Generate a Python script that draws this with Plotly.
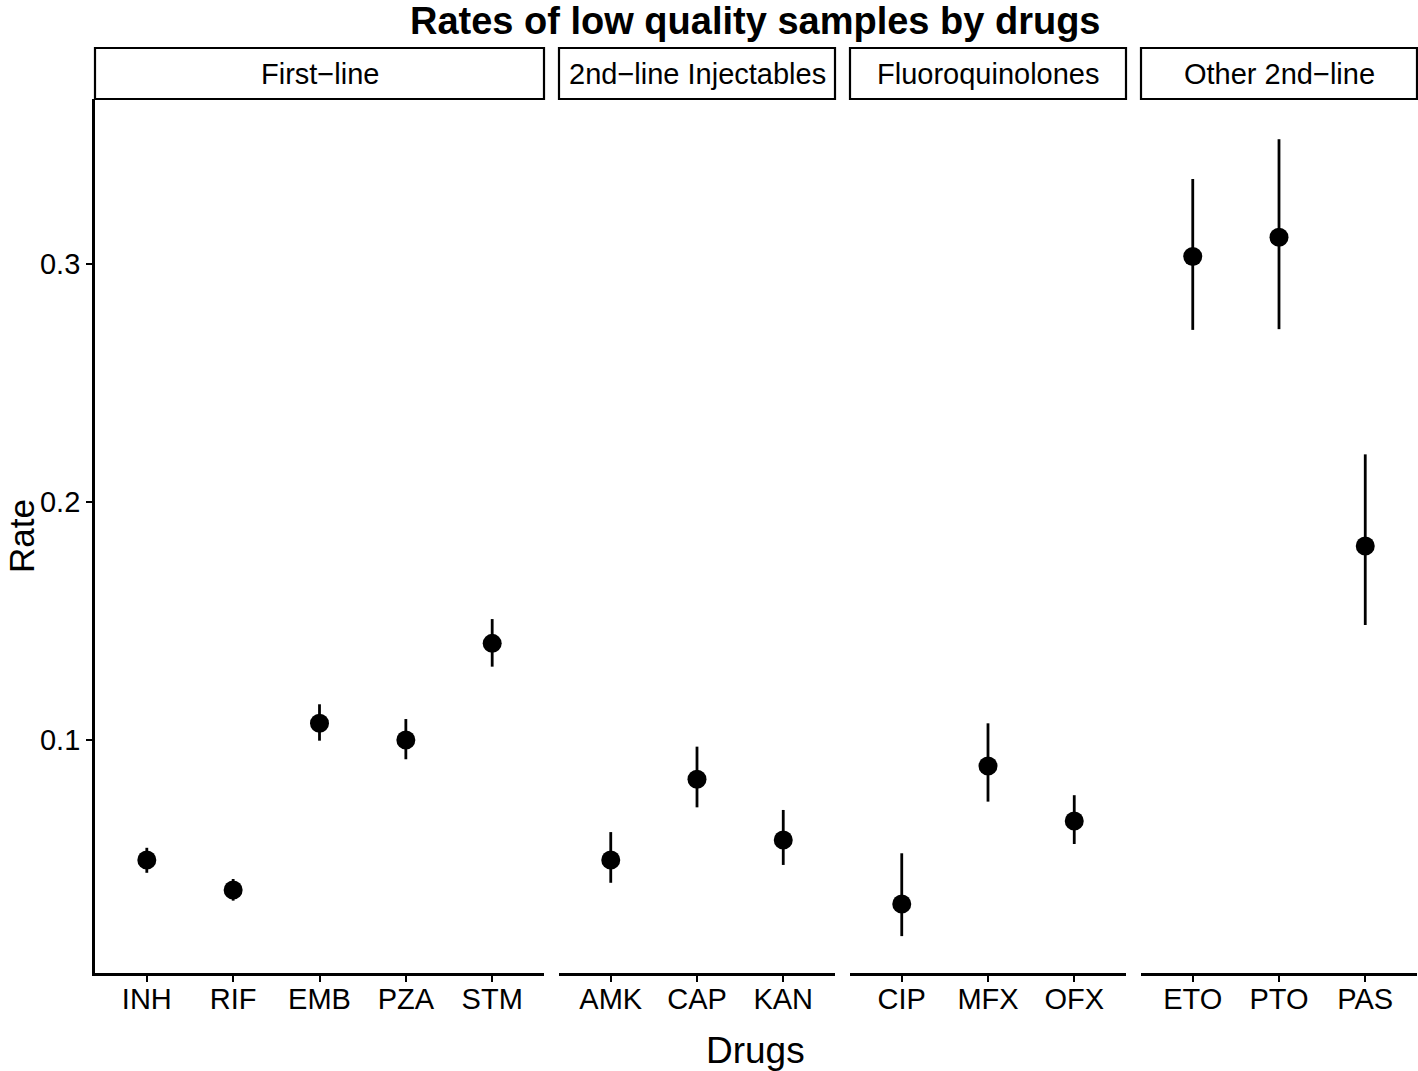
import plotly.graph_objects as go

# ---- data ----
groups = ["First\u2212line", "2nd\u2212line Injectables", "Fluoroquinolones", "Other 2nd\u2212line"]
drugs_first = ["INH", "RIF", "EMB", "PZA", "STM"]
rate_first = [0.0496, 0.0370, 0.1070, 0.1000, 0.1406]
low_first = [0.0442, 0.0325, 0.0997, 0.0919, 0.1308]
high_first = [0.0547, 0.0416, 0.1150, 0.1088, 0.1508]

drugs_inj = ["AMK", "CAP", "KAN"]
rate_inj = [0.0496, 0.0835, 0.0580]
low_inj = [0.0400, 0.0717, 0.0475]
high_inj = [0.0613, 0.0972, 0.0706]

drugs_fq = ["CIP", "MFX", "OFX"]
rate_fq = [0.0311, 0.0891, 0.0660]
low_fq = [0.0176, 0.0741, 0.0563]
high_fq = [0.0524, 0.1070, 0.0768]

drugs_other = ["ETO", "PTO", "PAS"]
rate_other = [0.3031, 0.3112, 0.1815]
low_other = [0.2723, 0.2726, 0.1483]
high_other = [0.3357, 0.3524, 0.2200]

y_ticks = [0.1, 0.2, 0.3]

panels = [
    (drugs_first, rate_first, low_first, high_first),
    (drugs_inj, rate_inj, low_inj, high_inj),
    (drugs_fq, rate_fq, low_fq, high_fq),
    (drugs_other, rate_other, low_other, high_other),
]

W, H = 1418, 1071
px_domains = [(95, 544), (559, 835), (850, 1126), (1141, 1417)]
plot_top, plot_bot = 99, 973
strip_top = 48
FONT = "Liberation Sans, Arial, sans-serif"
TICK = 29

fig = go.Figure()
layout = dict(
    width=W, height=H,
    margin=dict(l=0, r=0, t=0, b=0),
    paper_bgcolor="white", plot_bgcolor="white",
    showlegend=False,
    font=dict(family=FONT, color="black"),
)

ydom = [(H - plot_bot) / H, (H - plot_top) / H]
shapes = []
annotations = []

for i, (drugs, rate, lo, hi) in enumerate(panels):
    n = i + 1
    xs = "x" if n == 1 else f"x{n}"
    ys = "y" if n == 1 else f"y{n}"
    fig.add_trace(go.Scatter(
        x=drugs, y=rate, xaxis=xs, yaxis=ys, mode="markers",
        marker=dict(size=19, color="black"),
        error_y=dict(type="data", symmetric=False,
                     array=[h - r for h, r in zip(hi, rate)],
                     arrayminus=[r - l for r, l in zip(rate, lo)],
                     color="black", thickness=2.8, width=0),
        hoverinfo="x+y",
    ))
    d0, d1 = px_domains[i]
    xkey = "xaxis" if n == 1 else f"xaxis{n}"
    ykey = "yaxis" if n == 1 else f"yaxis{n}"
    layout[xkey] = dict(
        domain=[d0 / W, d1 / W], anchor=ys, type="category",
        categoryorder="array", categoryarray=drugs,
        range=[-0.6, len(drugs) - 0.4],
        showline=True, linewidth=2.8, linecolor="black",
        ticks="outside", ticklen=6, tickwidth=2, tickcolor="black",
        ticklabelstandoff=-8,
        tickfont=dict(size=TICK, family=FONT, color="black"),
        showgrid=False, zeroline=False, fixedrange=True,
    )
    ycfg = dict(
        domain=ydom, anchor=xs, range=[0.0021, 0.3693],
        tickvals=y_ticks, ticktext=[str(v) for v in y_ticks],
        showgrid=False, zeroline=False, fixedrange=True,
    )
    if n == 1:
        ycfg.update(showline=True, linewidth=2.8, linecolor="black",
                    ticks="outside", ticklen=6, tickwidth=2, tickcolor="black",
                    tickfont=dict(size=TICK, family=FONT, color="black"))
    else:
        ycfg.update(matches="y", showticklabels=False, showline=False, ticks="")
    layout[ykey] = ycfg

    # facet strip
    shapes.append(dict(type="rect", xref="paper", yref="paper",
                       x0=d0 / W, x1=d1 / W,
                       y0=(H - plot_top) / H, y1=(H - strip_top) / H,
                       line=dict(color="black", width=2.2), fillcolor="white"))
    annotations.append(dict(text=groups[i], xref="paper", yref="paper",
                            x=(d0 + d1) / 2 / W, y=(H - (plot_top + strip_top) / 2 - 1) / H,
                            showarrow=False, xanchor="center", yanchor="middle",
                            font=dict(size=29, family=FONT, color="black")))

# title and axis titles
annotations.append(dict(text="<b>Rates of low quality samples by drugs</b>",
                        xref="paper", yref="paper", x=756 / W, y=(H - 21) / H,
                        showarrow=False, xanchor="center", yanchor="middle",
                        font=dict(size=38, family=FONT, color="black")))
annotations.append(dict(text="Drugs", xref="paper", yref="paper",
                        x=756 / W, y=(H - 1050) / H, showarrow=False,
                        xanchor="center", yanchor="middle",
                        font=dict(size=37, family=FONT, color="black")))
annotations.append(dict(text="Rate", xref="paper", yref="paper",
                        x=21 / W, y=(H - 536) / H, showarrow=False, textangle=-90,
                        xanchor="center", yanchor="middle",
                        font=dict(size=35, family=FONT, color="black")))

layout["shapes"] = shapes
layout["annotations"] = annotations
fig.update_layout(**layout)
fig.write_html("out.html", config={"displayModeBar": False},
               post_script="document.body.style.margin='0px';document.body.style.overflow='hidden';")
